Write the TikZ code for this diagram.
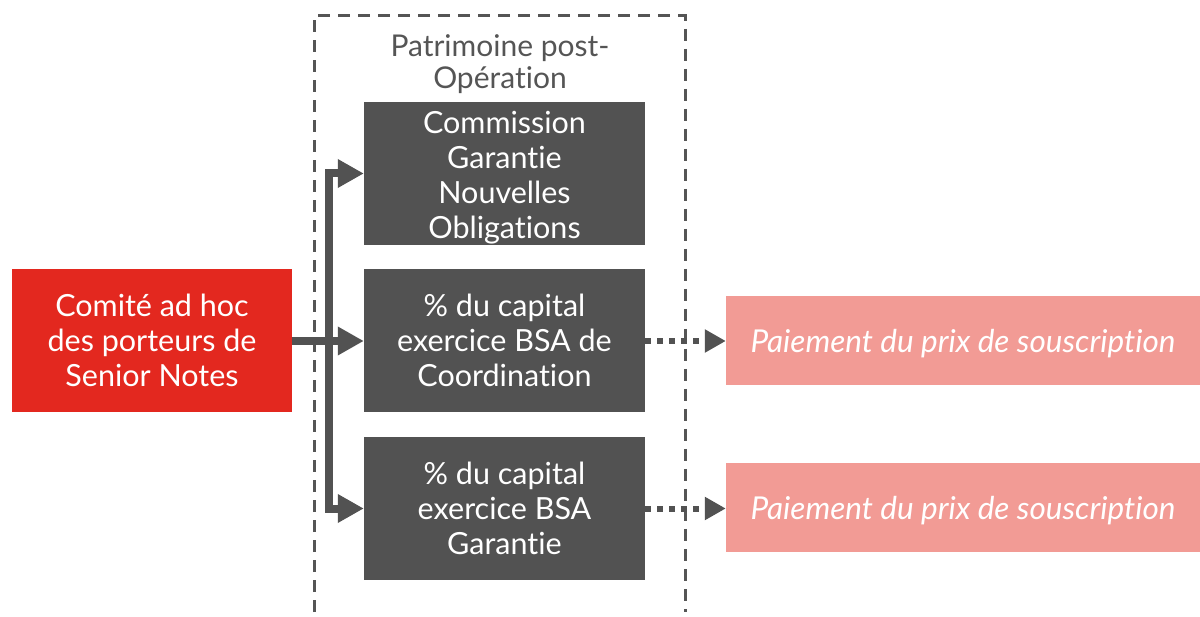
\documentclass[tikz,border=0pt]{standalone}
\usepackage{fontspec}
\setmainfont{Lato}[Ligatures=NoCommon]
\usetikzlibrary{arrows.meta}
\definecolor{boxgray}{HTML}{525252}
\definecolor{redbox}{HTML}{E3281F}
\definecolor{pinkbox}{HTML}{F29B95}
\definecolor{framegray}{HTML}{555555}
\tikzset{
  darkbox/.style={fill=boxgray, text=white, minimum width=281pt, minimum height=143pt, inner sep=0pt, align=center, font=\fontsize{30.5}{35}\selectfont},
  boxtext/.style={text=white, inner sep=0pt, align=center, font=\fontsize{30.5}{35}\selectfont},
  redstyle/.style={fill=redbox, text=white, minimum width=280pt, minimum height=143pt, inner sep=0pt, align=center, font=\fontsize{30.5}{35}\selectfont},
  pinkstyle/.style={fill=pinkbox, minimum width=474pt, minimum height=89pt, inner sep=0pt},
  pinktext/.style={text=white, inner sep=0pt, font=\fontsize{31.5}{35}\itshape\selectfont},
  feed/.style={draw=boxgray, line width=8pt, line join=miter, -{Triangle[length=26pt,width=27pt]}},
  dotarrow/.style={draw=boxgray, line width=6pt, dash pattern=on 6pt off 6pt, -{Triangle[length=21pt,width=22pt]}},
  framestyle/.style={draw=framegray, line width=3pt, dash pattern=on 12pt off 8pt},
}
\begin{document}
\begin{tikzpicture}[x=1pt,y=-1pt]
\useasboundingbox (0,0) rectangle (1200,617);
% dashed frame
\coordinate (fbl) at (314,612);
\coordinate (ftl) at (314,16);
\coordinate (ftr) at (685,16);
\coordinate (fbr) at (685,612);
\draw[framestyle] (fbl) -- (ftl) -- (ftr) -- (fbr);
\node[text=framegray, align=center, font=\fontsize{30}{32}\selectfont] (title) at (500,64) {Patrimoine post-\\Opération};
% boxes
\node[darkbox] (b1) at (504.5,173.5) {};
\node[boxtext] (b1t) at (504.5,178) {Commission\\Garantie\\Nouvelles\\Obligations};
\node[darkbox] (b2) at (504.5,340.5) {\% du capital\\exercice BSA de\\Coordination};
\node[darkbox] (b3) at (504.5,508.5) {\% du capital\\exercice BSA\\Garantie};
\node[redstyle] (red) at (152,340.5) {Comité ad hoc\\des porteurs de\\Senior Notes};
\node[pinkstyle] (p1) at (963,340.5) {};
\node[pinktext] (p1t) at (963,343.5) {Paiement du prix de souscription};
\node[pinkstyle] (p2) at (963,507.5) {};
\node[pinktext] (p2t) at (963,510.5) {Paiement du prix de souscription};
% connectors
\coordinate (j) at (328.5,341);
\draw[draw=boxgray, line width=8pt] (red.east |- j) -- (j);
\draw[feed] (j) |- (b1.west);
\draw[feed] (j) -- (b2.west |- j);
\draw[feed] (j) |- (b3.west);
\draw[dotarrow] (b2.east |- j) -- (p1.west |- j);
\draw[dotarrow] (b3.east) -- (p2.west |- b3.east);
\end{tikzpicture}
\end{document}
